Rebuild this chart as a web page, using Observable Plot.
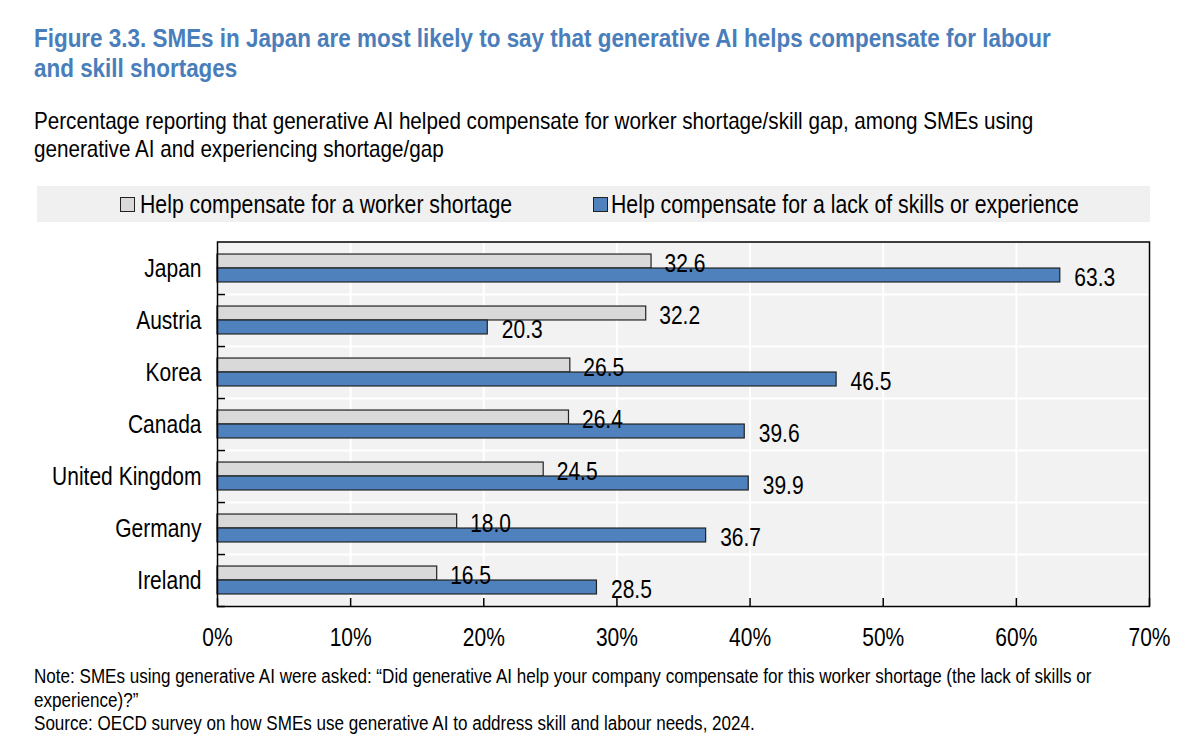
<!DOCTYPE html>
<html>
<head>
<meta charset="utf-8">
<script src="https://cdn.jsdelivr.net/npm/d3@7"></script>
<script src="https://cdn.jsdelivr.net/npm/@observablehq/plot@0.6"></script>
<style>
  body { margin: 0; background: #fff; }
  #page { position: relative; width: 1200px; height: 754px; overflow: hidden;
    font-family: "Liberation Sans", Arial, Helvetica, sans-serif; color: #000; }
  .abs { position: absolute; white-space: nowrap; }
  #title { left: 34px; top: 23px; font-size: 25.5px; line-height: 30px; font-weight: bold; color: #4a7ebb;
    transform: scaleX(0.88); transform-origin: 0 0; }
  #subtitle { left: 34px; top: 107px; font-size: 24px; line-height: 28px; transform: scaleX(0.86); transform-origin: 0 0; }
  #legend { left: 37px; top: 186px; width: 1113px; height: 36px; background: #f0f0f0; }
  .sw { position: absolute; width: 13px; height: 13px; border: 1px solid #222; top: 11px; }
  .lt { position: absolute; top: 0; font-size: 25px; line-height: 36px; white-space: nowrap; transform: scaleX(0.85); transform-origin: 0 0; }
  #chart { left: 0; top: 230px; }
  #notes { left: 34px; top: 665px; font-size: 19.5px; line-height: 23.5px; transform: scaleX(0.875); transform-origin: 0 0; }
</style>
</head>
<body>
<div id="page">
  <div id="title" class="abs">Figure 3.3. SMEs in Japan are most likely to say that generative AI helps compensate for labour<br>and skill shortages</div>
  <div id="subtitle" class="abs">Percentage reporting that generative AI helped compensate for worker shortage/skill gap, among SMEs using<br>generative AI and experiencing shortage/gap</div>
  <div id="legend" class="abs"></div>
  <div id="chart" class="abs"></div>
  <div id="notes" class="abs">Note: SMEs using generative AI were asked: “Did generative AI help your company compensate for this worker shortage (the lack of skills or<br>experience)?”<br>Source: OECD survey on how SMEs use generative AI to address skill and labour needs, 2024.</div>
</div>
<script>
// ---- Data ----
const countries = ["Japan", "Austria", "Korea", "Canada", "United Kingdom", "Germany", "Ireland"];
const workerShortage = [32.6, 32.2, 26.5, 26.4, 24.5, 18.0, 16.5];
const skillsGap = [63.3, 20.3, 46.5, 39.6, 39.9, 36.7, 28.5];
const seriesNames = ["Help compensate for a worker shortage", "Help compensate for a lack of skills or experience"];
const seriesColors = ["#d9d9d9", "#4f81bd"];
const xTicks = [0, 10, 20, 30, 40, 50, 60, 70];

const data = countries.map((c, i) => ({country: c, worker: workerShortage[i], skills: skillsGap[i]}));

// ---- Legend (HTML, above the SVG) ----
const legend = document.getElementById("legend");
const legendPos = [[83, 103], [556, 574]];
seriesNames.forEach((name, i) => {
  const sw = document.createElement("div");
  sw.className = "sw";
  sw.style.left = legendPos[i][0] + "px";
  sw.style.background = seriesColors[i];
  legend.appendChild(sw);
  const t = document.createElement("div");
  t.className = "lt";
  t.style.left = legendPos[i][1] + "px";
  t.textContent = name;
  legend.appendChild(t);
});

// ---- Chart ----
const W = 1200, H = 430, mT = 11.5, mB = 54, mL = 217, mR = 51;
const plotH = H - mT - mB, plotW = W - mL - mR;
const bw = plotH / countries.length;
const FS = 25;
const font = '"Liberation Sans", Arial, Helvetica, sans-serif';

const chart = Plot.plot({
  width: W, height: H,
  marginTop: mT, marginBottom: mB, marginLeft: mL, marginRight: mR,
  style: {fontFamily: font, fontSize: FS + "px", color: "#000", background: "transparent", overflow: "visible"},
  x: {domain: [0, 70]},
  y: {domain: countries, padding: 0},
  marks: [
    Plot.frame({fill: "#f2f2f2", stroke: null}),
    Plot.gridX(xTicks, {stroke: "#fff", strokeOpacity: 1, strokeWidth: 2}),
    Plot.tickY(countries, {y: d => d, stroke: "#fff", strokeWidth: 2, dy: bw / 2}),
    Plot.barX(data, {y: "country", x: "worker", fill: seriesColors[0], stroke: "#222", strokeWidth: 1.2, insetTop: bw / 2 - 14, insetBottom: bw / 2}),
    Plot.barX(data, {y: "country", x: "skills", fill: seriesColors[1], stroke: "#222", strokeWidth: 1.2, insetTop: bw / 2, insetBottom: bw / 2 - 14}),
    Plot.text(data, {y: "country", x: "worker", text: d => d.worker.toFixed(1), textAnchor: "start", dx: 13, dy: -5, fontSize: FS, fill: "#000"}),
    Plot.text(data, {y: "country", x: "skills", text: d => d.skills.toFixed(1), textAnchor: "start", dx: 14, dy: 9.5, fontSize: FS, fill: "#000"}),
    Plot.tickY(countries, {y: d => d, stroke: "#000", strokeWidth: 1.5, dy: bw / 2, insetRight: plotW - 8}),
    Plot.tickX(xTicks, {x: d => d, stroke: "#000", strokeWidth: 1.5, insetTop: plotH - 8}),
    Plot.frame({stroke: "#000", strokeWidth: 1.5}),
    Plot.axisX({ticks: xTicks, tickSize: 0, tickPadding: 22, tickFormat: d => d + "%", fontSize: FS, label: null}),
    Plot.axisY({tickSize: 0, tickPadding: 16, fontSize: FS, label: null})
  ]
});

// Emulate a narrow (Arial Narrow-like) face: compress each SVG text to a fraction of its natural width.
const ctx = document.createElement("canvas").getContext("2d");
ctx.font = `${FS}px "Liberation Sans"`;
chart.querySelectorAll("text").forEach(t => {
  if (t.querySelector("tspan")) return;
  const s = t.textContent;
  if (!s) return;
  t.setAttribute("textLength", (ctx.measureText(s).width * 0.84).toFixed(2));
  t.setAttribute("lengthAdjust", "spacingAndGlyphs");
});
document.getElementById("chart").appendChild(chart);
</script>
</body>
</html>
